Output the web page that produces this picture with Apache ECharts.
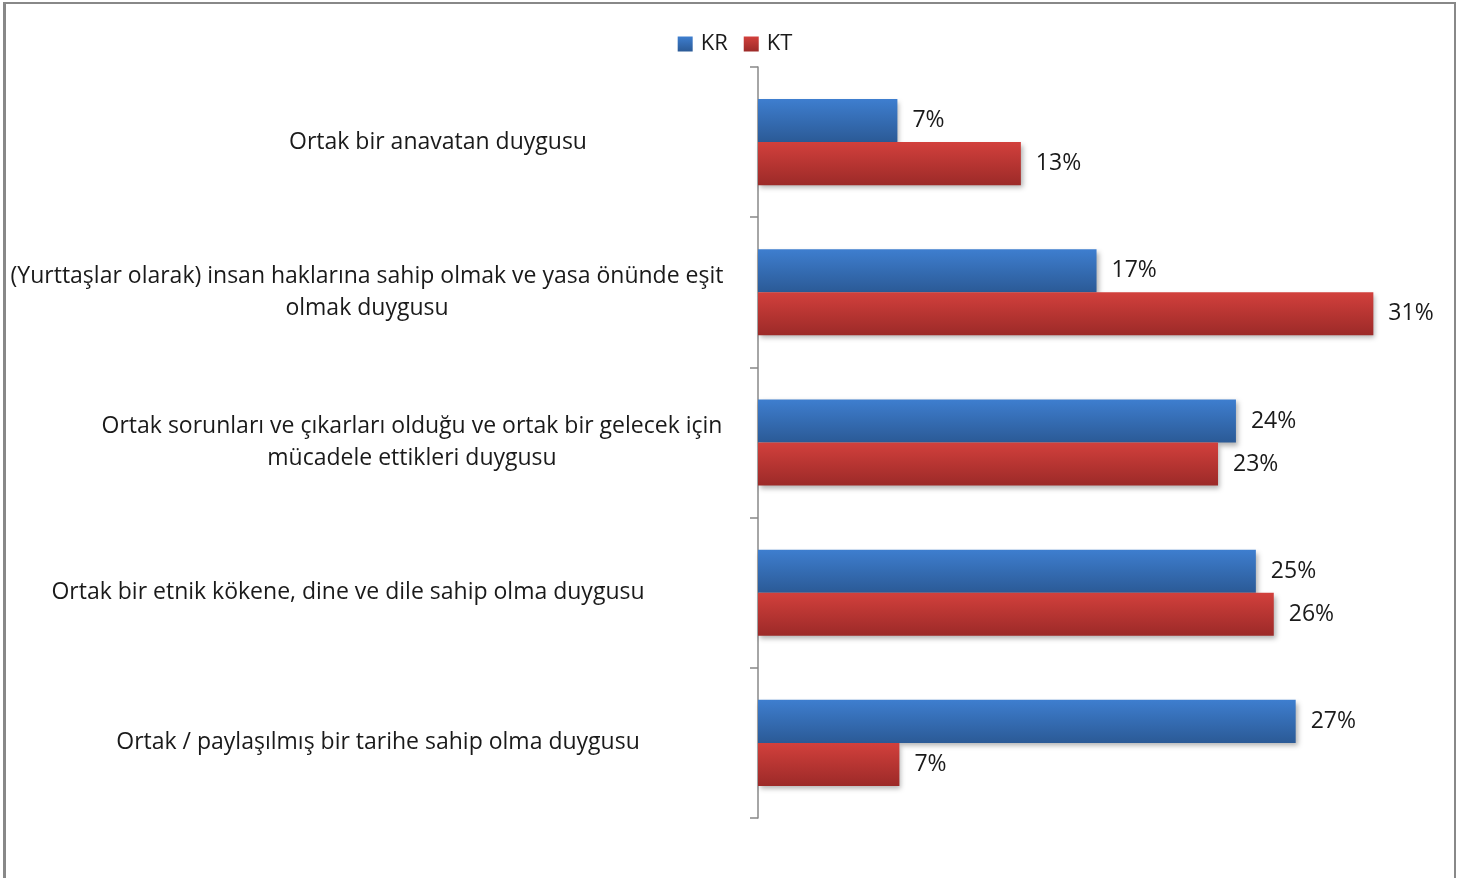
<!DOCTYPE html>
<html>
<head>
<meta charset="utf-8">
<script src="https://cdn.jsdelivr.net/npm/echarts@6/dist/echarts.min.js"></script>
<style>html,body{margin:0;padding:0;background:#fff}#c{width:1470px;height:878px}</style>
</head>
<body>
<div id="c"></div>
<script>
var categories = [
  'Ortak bir anavatan duygusu',
  '(Yurttaşlar olarak) insan haklarına sahip olmak ve yasa önünde eşit\nolmak duygusu',
  'Ortak sorunları ve çıkarları olduğu ve ortak bir gelecek için\nmücadele ettikleri duygusu',
  'Ortak bir etnik kökene, dine ve dile sahip olma duygusu',
  'Ortak / paylaşılmış bir tarihe sahip olma duygusu'
];
var seriesNames = ['KR', 'KT'];
var krValues = [7.0, 17.0, 24.0, 25.0, 27.0];
var ktValues = [13.2, 30.9, 23.1, 25.9, 7.1];

var FONT = '"Open Sans", Lato, sans-serif';
var labelShift = [0, 142, 52, 180, 120];
var rich = {};
labelShift.forEach(function (p, i) {
  rich['c' + i] = { fontFamily: FONT, fontSize: 23, color: '#1a1a1a', lineHeight: 32, align: 'center', padding: [0, p, 0, 0] };
});

function grad(top, bottom) {
  return new echarts.graphic.LinearGradient(0, 0, 0, 1, [
    { offset: 0, color: top }, { offset: 1, color: bottom }
  ]);
}

var chart = echarts.init(document.getElementById('c'));
chart.setOption({
  backgroundColor: '#fff',
  animation: false,
  legend: {
    top: 28, left: 'center',
    itemWidth: 15, itemHeight: 15, itemGap: 16,
    icon: 'rect',
    textStyle: { fontFamily: FONT, fontSize: 22, color: '#1a1a1a', padding: [0, 0, 0, 3] },
    data: seriesNames
  },
  grid: { left: 758, right: 15, top: 67, bottom: 60, containLabel: false },
  xAxis: {
    type: 'value', min: 0, max: 35, show: false
  },
  yAxis: {
    type: 'category', inverse: true, data: categories,
    axisLine: { show: true, lineStyle: { color: '#888', width: 1.5 } },
    axisTick: { show: true, length: 8, interval: 0, lineStyle: { color: '#888', width: 1.5 } },
    axisLabel: {
      interval: 0, margin: 320, align: 'center',
      formatter: function (v, i) {
        return v.split('\n').map(function (s) { return '{c' + i + '|' + s + '}'; }).join('\n');
      },
      rich: rich
    },
    splitLine: { show: false }
  },
  graphic: [
    { type: 'rect', shape: { x: 3, y: 2, width: 3, height: 876 }, style: { fill: '#888' } },
    { type: 'rect', shape: { x: 3, y: 2, width: 1453, height: 2 }, style: { fill: '#888' } },
    { type: 'rect', shape: { x: 1454, y: 2, width: 2, height: 876 }, style: { fill: '#888' } }
  ],
  series: [
    {
      name: seriesNames[0], type: 'bar', data: krValues,
      barGap: '0%', barCategoryGap: '42.7%',
      itemStyle: { color: grad('#3e7ecf', '#2b5a96'), shadowColor: 'rgba(0,0,0,0.3)', shadowBlur: 5, shadowOffsetX: 2, shadowOffsetY: 3 },
      label: { show: true, position: 'right', distance: 15, fontFamily: FONT, fontSize: 23, color: '#1a1a1a',
        formatter: function (p) { return Math.round(p.value) + '%'; } }
    },
    {
      name: seriesNames[1], type: 'bar', data: ktValues,
      barGap: '0%', barCategoryGap: '42.7%',
      itemStyle: { color: grad('#d2403c', '#9c2a28'), shadowColor: 'rgba(0,0,0,0.3)', shadowBlur: 5, shadowOffsetX: 2, shadowOffsetY: 3 },
      label: { show: true, position: 'right', distance: 15, fontFamily: FONT, fontSize: 23, color: '#1a1a1a',
        formatter: function (p) { return Math.round(p.value) + '%'; } }
    }
  ]
});
</script>
</body>
</html>
